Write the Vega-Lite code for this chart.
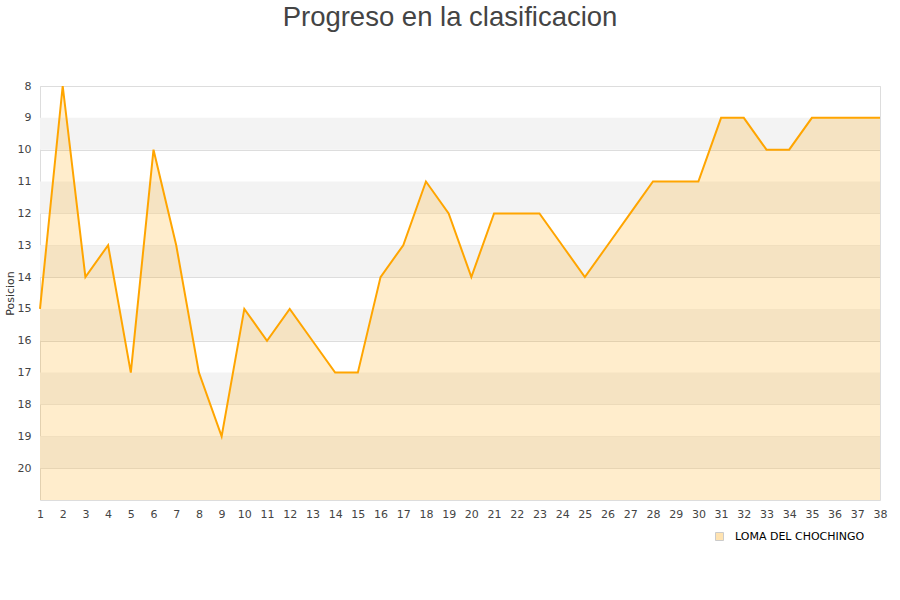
{
  "$schema": "https://vega.github.io/schema/vega-lite/v6.json",
  "width": 840,
  "height": 414,
  "autosize": {"type": "none"},
  "padding": {"left": 40, "top": 86, "right": 20, "bottom": 100},
  "background": "white",
  "title": {
    "text": "Progreso en la clasificacion",
    "font": "Liberation Sans",
    "fontSize": 27.5,
    "fontWeight": "normal",
    "color": "#444444",
    "anchor": "middle",
    "dx": -10,
    "offset": 49
  },
  "config": {
    "view": {"stroke": "#dddddd"},
    "axis": {
      "labelFont": "DejaVu Sans",
      "labelFontSize": 11,
      "labelColor": "#444444",
      "labelOverlap": false,
      "ticks": false,
      "domain": false,
      "gridColor": "#dddddd"
    }
  },
  "datasets": {
    "bandas": [
      {"desde": 9, "hasta": 10},
      {"desde": 11, "hasta": 12},
      {"desde": 13, "hasta": 14},
      {"desde": 15, "hasta": 16},
      {"desde": 17, "hasta": 18},
      {"desde": 19, "hasta": 20}
    ],
    "progreso": [
      {"jornada": 1, "posicion": 15, "equipo": "LOMA DEL CHOCHINGO"},
      {"jornada": 2, "posicion": 8, "equipo": "LOMA DEL CHOCHINGO"},
      {"jornada": 3, "posicion": 14, "equipo": "LOMA DEL CHOCHINGO"},
      {"jornada": 4, "posicion": 13, "equipo": "LOMA DEL CHOCHINGO"},
      {"jornada": 5, "posicion": 17, "equipo": "LOMA DEL CHOCHINGO"},
      {"jornada": 6, "posicion": 10, "equipo": "LOMA DEL CHOCHINGO"},
      {"jornada": 7, "posicion": 13, "equipo": "LOMA DEL CHOCHINGO"},
      {"jornada": 8, "posicion": 17, "equipo": "LOMA DEL CHOCHINGO"},
      {"jornada": 9, "posicion": 19, "equipo": "LOMA DEL CHOCHINGO"},
      {"jornada": 10, "posicion": 15, "equipo": "LOMA DEL CHOCHINGO"},
      {"jornada": 11, "posicion": 16, "equipo": "LOMA DEL CHOCHINGO"},
      {"jornada": 12, "posicion": 15, "equipo": "LOMA DEL CHOCHINGO"},
      {"jornada": 13, "posicion": 16, "equipo": "LOMA DEL CHOCHINGO"},
      {"jornada": 14, "posicion": 17, "equipo": "LOMA DEL CHOCHINGO"},
      {"jornada": 15, "posicion": 17, "equipo": "LOMA DEL CHOCHINGO"},
      {"jornada": 16, "posicion": 14, "equipo": "LOMA DEL CHOCHINGO"},
      {"jornada": 17, "posicion": 13, "equipo": "LOMA DEL CHOCHINGO"},
      {"jornada": 18, "posicion": 11, "equipo": "LOMA DEL CHOCHINGO"},
      {"jornada": 19, "posicion": 12, "equipo": "LOMA DEL CHOCHINGO"},
      {"jornada": 20, "posicion": 14, "equipo": "LOMA DEL CHOCHINGO"},
      {"jornada": 21, "posicion": 12, "equipo": "LOMA DEL CHOCHINGO"},
      {"jornada": 22, "posicion": 12, "equipo": "LOMA DEL CHOCHINGO"},
      {"jornada": 23, "posicion": 12, "equipo": "LOMA DEL CHOCHINGO"},
      {"jornada": 24, "posicion": 13, "equipo": "LOMA DEL CHOCHINGO"},
      {"jornada": 25, "posicion": 14, "equipo": "LOMA DEL CHOCHINGO"},
      {"jornada": 26, "posicion": 13, "equipo": "LOMA DEL CHOCHINGO"},
      {"jornada": 27, "posicion": 12, "equipo": "LOMA DEL CHOCHINGO"},
      {"jornada": 28, "posicion": 11, "equipo": "LOMA DEL CHOCHINGO"},
      {"jornada": 29, "posicion": 11, "equipo": "LOMA DEL CHOCHINGO"},
      {"jornada": 30, "posicion": 11, "equipo": "LOMA DEL CHOCHINGO"},
      {"jornada": 31, "posicion": 9, "equipo": "LOMA DEL CHOCHINGO"},
      {"jornada": 32, "posicion": 9, "equipo": "LOMA DEL CHOCHINGO"},
      {"jornada": 33, "posicion": 10, "equipo": "LOMA DEL CHOCHINGO"},
      {"jornada": 34, "posicion": 10, "equipo": "LOMA DEL CHOCHINGO"},
      {"jornada": 35, "posicion": 9, "equipo": "LOMA DEL CHOCHINGO"},
      {"jornada": 36, "posicion": 9, "equipo": "LOMA DEL CHOCHINGO"},
      {"jornada": 37, "posicion": 9, "equipo": "LOMA DEL CHOCHINGO"},
      {"jornada": 38, "posicion": 9, "equipo": "LOMA DEL CHOCHINGO"}
    ]
  },
  "encoding": {
    "x": {
      "field": "jornada",
      "type": "quantitative",
      "scale": {"domain": [1, 38], "nice": false},
      "axis": {
        "title": null,
        "values": [1, 2, 3, 4, 5, 6, 7, 8, 9, 10, 11, 12, 13, 14, 15, 16, 17, 18, 19, 20, 21, 22, 23, 24, 25, 26, 27, 28, 29, 30, 31, 32, 33, 34, 35, 36, 37, 38],
        "grid": false,
        "labelPadding": 8,
        "labelFlush": false
      }
    },
    "y": {
      "field": "posicion",
      "type": "quantitative",
      "scale": {"domain": [8, 21], "reverse": true, "nice": false, "zero": false},
      "axis": {
        "title": "Posicion",
        "titleFont": "DejaVu Sans",
        "titleFontSize": 11,
        "titleFontWeight": "normal",
        "titleColor": "#333333",
        "titlePadding": 2,
        "values": [8, 9, 10, 11, 12, 13, 14, 15, 16, 17, 18, 19, 20],
        "labelPadding": 9,
        "grid": true
      }
    }
  },
  "layer": [
    {
      "data": {"name": "bandas"},
      "mark": {"type": "rect", "color": "#f3f3f3", "opacity": 1},
      "encoding": {
        "x": {"value": 0},
        "x2": {"value": "width"},
        "y": {
          "field": "desde",
          "type": "quantitative",
          "scale": {"domain": [8, 21], "reverse": true, "nice": false, "zero": false},
          "axis": {
            "title": "Posicion",
            "titleFont": "DejaVu Sans",
            "titleFontSize": 11,
            "titleFontWeight": "normal",
            "titleColor": "#333333",
            "titlePadding": 2,
            "values": [8, 9, 10, 11, 12, 13, 14, 15, 16, 17, 18, 19, 20],
            "labelPadding": 9,
            "grid": true
          }
        },
        "y2": {"field": "hasta"}
      }
    },
    {
      "data": {"name": "progreso"},
      "mark": {"type": "area", "fillOpacity": 0.2},
      "encoding": {
        "y2": {"datum": 21},
        "fill": {
          "field": "equipo",
          "type": "nominal",
          "scale": {"range": ["#ffa500"]},
          "legend": {
            "title": null,
            "orient": "none",
            "legendX": 674,
            "legendY": 445,
            "symbolType": "square",
            "symbolSize": 64,
            "symbolOpacity": 0.3,
            "symbolStrokeColor": "#555555",
            "symbolStrokeWidth": 1,
            "labelFont": "DejaVu Sans",
            "labelFontSize": 11,
            "labelColor": "#000000",
            "labelOffset": 10
          }
        }
      }
    },
    {
      "data": {"name": "progreso"},
      "mark": {"type": "line", "color": "#ffa500", "strokeWidth": 2},
      "encoding": {}
    }
  ]
}
